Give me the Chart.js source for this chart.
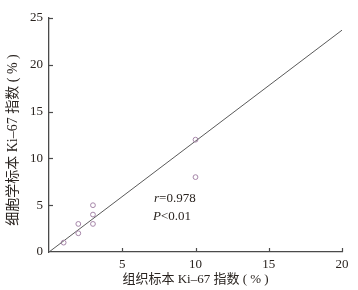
<!DOCTYPE html>
<html><head><meta charset="utf-8">
<script src="https://cdn.jsdelivr.net/npm/chart.js@4/dist/chart.umd.min.js"></script>
<style>html,body{margin:0;padding:0;background:#fff}#wrap{width:358px;height:290px}</style>
</head><body><div id="wrap"><canvas id="c" width="358" height="290"></canvas></div>
<script>
const xTicks = [0, 5, 10, 15, 20];
const yTicks = [0, 5, 10, 15, 20, 25];
const tissueKi67 = [1, 2, 2, 3, 3, 3, 10, 10];
const cytologyKi67 = [1, 2, 3, 3, 4, 5, 12, 8];
const fitX = [0, 20];
const fitY = [0, 23.7];
const xTitle = '组织标本 Ki–67 指数 ( % )';
const yTitle = '细胞学标本 Ki–67 指数 ( % )';
const statR = ['r', '=0.978'];
const statP = ['P', '<0.01'];

const SERIF = '"Liberation Serif","DejaVu Serif","Noto Sans CJK SC",serif';
const TXT = '#2a2420';
const AX = '#4a4a4a';

const deco = {
  id: 'deco',
  afterDraw(chart) {
    const ctx = chart.ctx, xs = chart.scales.x, ys = chart.scales.y, a = chart.chartArea;
    ctx.save();
    ctx.strokeStyle = AX; ctx.lineWidth = 1.2;
    xTicks.forEach(v => { if (v === 0) return; const px = Math.round(xs.getPixelForValue(v)) + 0.5;
      ctx.beginPath(); ctx.moveTo(px, a.bottom); ctx.lineTo(px, a.bottom - 4); ctx.stroke(); });
    yTicks.forEach(v => { if (v === 0) return; const py = Math.round(ys.getPixelForValue(v)) + 0.5;
      ctx.beginPath(); ctx.moveTo(a.left, py); ctx.lineTo(a.left + 4, py); ctx.stroke(); });
    ctx.fillStyle = TXT;
    ctx.textBaseline = 'middle'; ctx.textAlign = 'center';
    ctx.font = '13px ' + SERIF;
    ctx.fillText(xTitle, (a.left + a.right) / 2, 280);
    ctx.save();
    ctx.font = '14px ' + SERIF;
    ctx.translate(13, 140); ctx.rotate(-Math.PI / 2);
    ctx.fillText(yTitle, 0, 0);
    ctx.restore();
    ctx.textAlign = 'left';
    const drawStat = (parts, x, y) => {
      ctx.font = 'italic 13px ' + SERIF; ctx.fillText(parts[0], x, y);
      const w = ctx.measureText(parts[0]).width;
      ctx.font = '13px ' + SERIF; ctx.fillText(parts[1], x + w, y);
    };
    drawStat(statR, 154, 199);
    drawStat(statP, 153, 217);
    ctx.restore();
  }
};

new Chart(document.getElementById('c'), {
  type: 'scatter',
  data: {
    datasets: [
      { data: tissueKi67.map((x, i) => ({ x, y: cytologyKi67[i] })),
        pointStyle: 'circle', pointRadius: 2.4, pointBorderWidth: 1,
        pointBorderColor: '#a585a8', pointBackgroundColor: 'rgba(255,255,255,0)', order: 1 },
      { type: 'line', data: fitX.map((x, i) => ({ x, y: fitY[i] })),
        borderColor: '#5a5a5a', borderWidth: 1, pointRadius: 0, fill: false, order: 2 }
    ]
  },
  options: {
    responsive: false, animation: false, devicePixelRatio: 1,
    layout: { padding: { left: 0, top: 18, right: 16, bottom: 0 } },
    plugins: { legend: { display: false }, tooltip: { enabled: false } },
    scales: {
      x: { type: 'linear', min: 0, max: 20,
        afterBuildTicks: s => { s.ticks = xTicks.map(v => ({ value: v })); },
        afterFit: s => { s.height = 38; },
        grid: { display: false, drawTicks: false },
        border: { display: true, color: AX, width: 1.3 },
        ticks: { padding: 5, color: TXT, font: { family: SERIF, size: 13 },
          callback: v => v === 0 ? '' : String(v), maxRotation: 0 } },
      y: { type: 'linear', min: 0, max: 25,
        afterBuildTicks: s => { s.ticks = yTicks.map(v => ({ value: v })); },
        afterFit: s => { s.width = 49; },
        grid: { display: false, drawTicks: false },
        border: { display: true, color: AX, width: 1.3 },
        ticks: { padding: 6, color: TXT, font: { family: SERIF, size: 13 } } }
    }
  },
  plugins: [deco]
});
</script></body></html>
